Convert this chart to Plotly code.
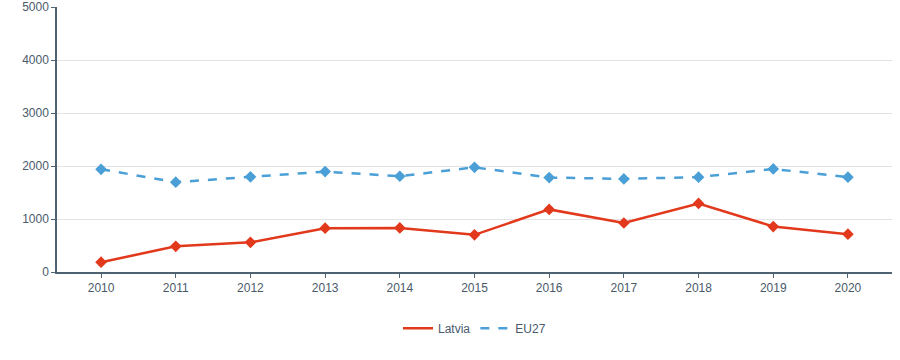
import plotly.graph_objects as go

years = [2010, 2011, 2012, 2013, 2014, 2015, 2016, 2017, 2018, 2019, 2020]
latvia = [185, 484, 559, 826, 832, 701, 1181, 925, 1293, 858, 714]
eu27 = [1938, 1695, 1795, 1894, 1807, 1975, 1782, 1757, 1790, 1944, 1790]
y_ticks = [0, 1000, 2000, 3000, 4000, 5000]

red = "#e2381c"
blue = "#4a9fd6"

fig = go.Figure()
fig.add_trace(go.Scatter(x=years, y=latvia, name="Latvia", mode="lines+markers",
                         line=dict(color=red, width=2.5), showlegend=False,
                         marker=dict(symbol="diamond", size=9, color=red)))
fig.add_trace(go.Scatter(x=years, y=eu27, name="EU27", mode="lines+markers",
                         line=dict(color=blue, width=2.5, dash="dash"), showlegend=False,
                         marker=dict(symbol="diamond", size=9, color=blue)))
# legend entries (line only, as in the reference)
fig.add_trace(go.Scatter(x=[None], y=[None], name="Latvia", mode="lines",
                         line=dict(color=red, width=2.5)))
fig.add_trace(go.Scatter(x=[None], y=[None], name="EU27", mode="lines",
                         line=dict(color=blue, width=2.5, dash="dash")))

axis_col = "#4f6272"
fig.update_layout(
    width=900, height=360,
    margin=dict(l=57, r=8, t=7, b=88, autoexpand=False),
    paper_bgcolor="white", plot_bgcolor="white",
    font=dict(family="Liberation Sans, Arial, sans-serif", size=12, color="#4a5a6b"),
    showlegend=True,
    legend=dict(orientation="h", x=0.5, xanchor="center", y=-0.212, yanchor="middle",
                font=dict(size=12)),
    xaxis=dict(range=[2009.41, 2020.59], tickvals=years, ticktext=[str(y) for y in years],
               showline=True, linecolor=axis_col, linewidth=1.5, ticks="outside",
               tickcolor=axis_col, ticklen=4, showgrid=False, zeroline=False,
               automargin=False),
    yaxis=dict(range=[0, 5000], tickvals=y_ticks, showline=True, linecolor=axis_col,
               linewidth=1.5, ticks="outside", tickcolor=axis_col, ticklen=4,
               gridcolor="#e3e3e3", zeroline=False, automargin=False),
)
fig.write_html("out.html", config={"displayModeBar": False},
               post_script="document.body.style.margin='0';")
